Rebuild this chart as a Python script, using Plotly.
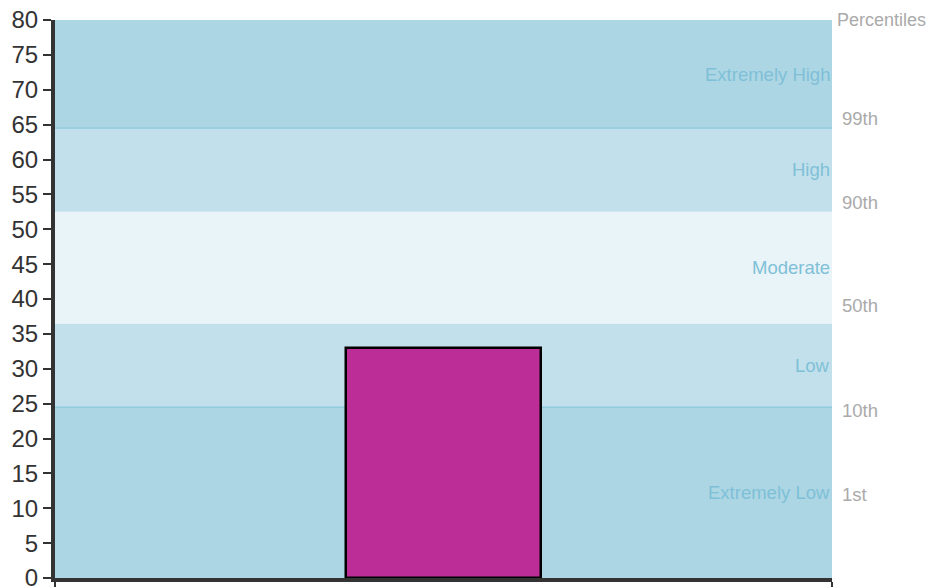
import plotly.graph_objects as go

# Data
bar_value = [33]
bar_x = [0]
band_edges = [0, 24.5, 36.5, 52.5, 64.5, 80]
band_names = ["Extremely Low", "Low", "Moderate", "High", "Extremely High"]
band_colors = ["#acd6e3", "#c2e0eb", "#e8f4f7", "#c2e0eb", "#acd6e3"]
percentile_labels = ["1st", "10th", "50th", "90th", "99th"]
percentile_pos = [12.0, 24.0, 39.0, 53.8, 65.9]
y_ticks = list(range(0, 81, 5))

FONT = "Liberation Sans, Arial, Helvetica"

fig = go.Figure()

fig.add_trace(go.Bar(
    x=bar_x, y=bar_value, width=1,
    marker=dict(color="#bc2d98", line=dict(color="#000000", width=2.5)),
    showlegend=False, hoverinfo="skip",
))

for i, name in enumerate(band_names):
    y0, y1 = band_edges[i], band_edges[i + 1]
    fig.add_shape(type="rect", xref="paper", yref="y", x0=0, x1=1, y0=y0, y1=y1,
                  fillcolor=band_colors[i], line=dict(width=0), layer="below")
    fig.add_annotation(xref="paper", yref="y", x=1, y=(y0 + y1) / 2, text=name,
                       showarrow=False, xanchor="right", yanchor="middle", xshift=0,
                       font=dict(family=FONT, size=18.5, color="#7fc0d8"))

for yv in [band_edges[1], band_edges[4]]:
    fig.add_shape(type="line", xref="paper", yref="y", x0=0, x1=1, y0=yv, y1=yv,
                  line=dict(color="#80c4dc", width=1), layer="below")

for lab, pos in zip(percentile_labels, percentile_pos):
    fig.add_annotation(xref="paper", yref="y", x=1, y=pos, text=lab, showarrow=False,
                       xanchor="left", yanchor="middle", xshift=8,
                       font=dict(family=FONT, size=18.5, color="#aaaaaa"))

fig.add_annotation(xref="paper", yref="y", x=1, y=80, text="Percentiles", showarrow=False,
                   xanchor="left", yanchor="middle", xshift=3,
                   font=dict(family=FONT, size=18, color="#aaaaaa"))

fig.update_layout(
    width=935, height=587,
    margin=dict(l=47, r=111, t=12, b=17),
    paper_bgcolor="white", plot_bgcolor="white",
    font=dict(family=FONT, color="#333333"),
    bargap=0,
)
fig.update_xaxes(range=[-2, 2], showgrid=False, zeroline=False, showline=True,
                 linecolor="#333333", linewidth=4, ticks="outside", tickvals=[-2, 2],
                 ticktext=["", ""], ticklen=8, tickwidth=2, tickcolor="#333333",
                 automargin=False)
fig.update_yaxes(range=[0, 80], showgrid=False, zeroline=False, showline=True,
                 linecolor="#333333", linewidth=4, ticks="outside", tickvals=y_ticks,
                 ticklen=8, tickwidth=2, tickcolor="#333333", automargin=False,
                 ticklabeloverflow="allow",
                 tickfont=dict(size=24, color="#333333", family=FONT))

fig.write_html("out.html")
